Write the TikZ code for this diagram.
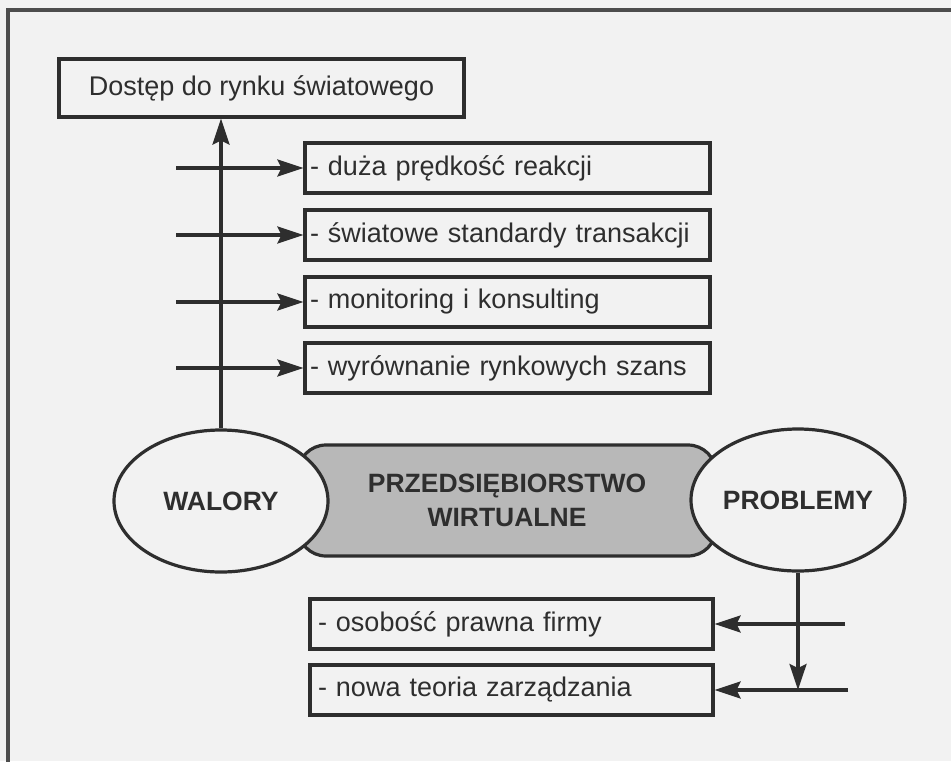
\documentclass[tikz,border=0pt]{standalone}
\usepackage{fontspec}
\setmainfont{Liberation Sans}
\usetikzlibrary{shapes.geometric,arrows.meta,calc}
\definecolor{bg}{gray}{0.95}
\definecolor{ink}{gray}{0.18}
\definecolor{shade}{gray}{0.72}
\begin{document}
\begin{tikzpicture}[x=1pt,y=-1pt,
  lw/.style={line width=3.2pt, draw=ink},
  arr/.style={lw, -{Stealth[length=26pt,width=17pt,inset=4pt]}},
  topbox/.style={lw, rectangle, minimum width=405pt, minimum height=58pt, inner sep=0pt,
    font=\fontsize{27}{32}\selectfont, text=ink},
  tbox/.style={lw, rectangle, minimum height=50pt, text width=395pt, inner sep=5pt,
    align=left, font=\fontsize{27}{32}\selectfont, text=ink},
  bbox/.style={lw, rectangle, minimum height=50pt, text width=387pt, inner sep=8pt,
    align=left, font=\fontsize{27}{32}\selectfont, text=ink},
  core/.style={lw, rectangle, rounded corners=28pt, fill=shade, minimum width=418pt,
    minimum height=111pt, align=center, font=\fontsize{26.5}{34}\selectfont\bfseries, text=ink},
  oval/.style={lw, ellipse, fill=bg, minimum width=214pt, minimum height=142pt, inner sep=0pt,
    font=\fontsize{26.5}{32}\selectfont\bfseries, text=ink}]
\useasboundingbox (0,0) rectangle (951,761);
\clip (0,0) rectangle (951,761);
\fill[bg] (0,0) rectangle (951,761);
\draw[line width=3.2pt, draw=ink!85] (8,10) rectangle (975,785);

\node[topbox] (top) at (261.5,88) {Dostęp do rynku światowego};
\node[tbox] (b1) at (507.5,168) {- duża prędkość reakcji};
\node[tbox] (b2) at (507.5,235) {- światowe standardy transakcji};
\node[tbox] (b3) at (507.5,302) {- monitoring i konsulting};
\node[tbox] (b4) at (507.5,368) {- wyrównanie rynkowych szans};

\node[core] (core) at (507,500.5) {PRZEDSIĘBIORSTWO\\WIRTUALNE};
\node[oval] (wal) at (221,501) {WALORY};
\node[oval] (prob) at (798,500) {PROBLEMY};

\node[bbox] (c1) at (511.5,624) {- osobość prawna firmy};
\node[bbox] (c2) at (511.5,690) {- nowa teoria zarządzania};

\coordinate (a1) at (176,168);
\coordinate (a2) at (176,235);
\coordinate (a3) at (176,302);
\coordinate (a4) at (176,368);
\coordinate (p1) at (845,624);
\coordinate (p2) at (848,690);

\draw[arr] (wal.north) -- (wal.north |- top.south);
\draw[arr] (a1) -- (b1.west);
\draw[arr] (a2) -- (b2.west);
\draw[arr] (a3) -- (b3.west);
\draw[arr] (a4) -- (b4.west);

\draw[arr] (prob.south) -- (prob.south |- c2.east);
\draw[arr] (p1) -- (c1.east);
\draw[arr] (p2) -- (c2.east);
\end{tikzpicture}
\end{document}
